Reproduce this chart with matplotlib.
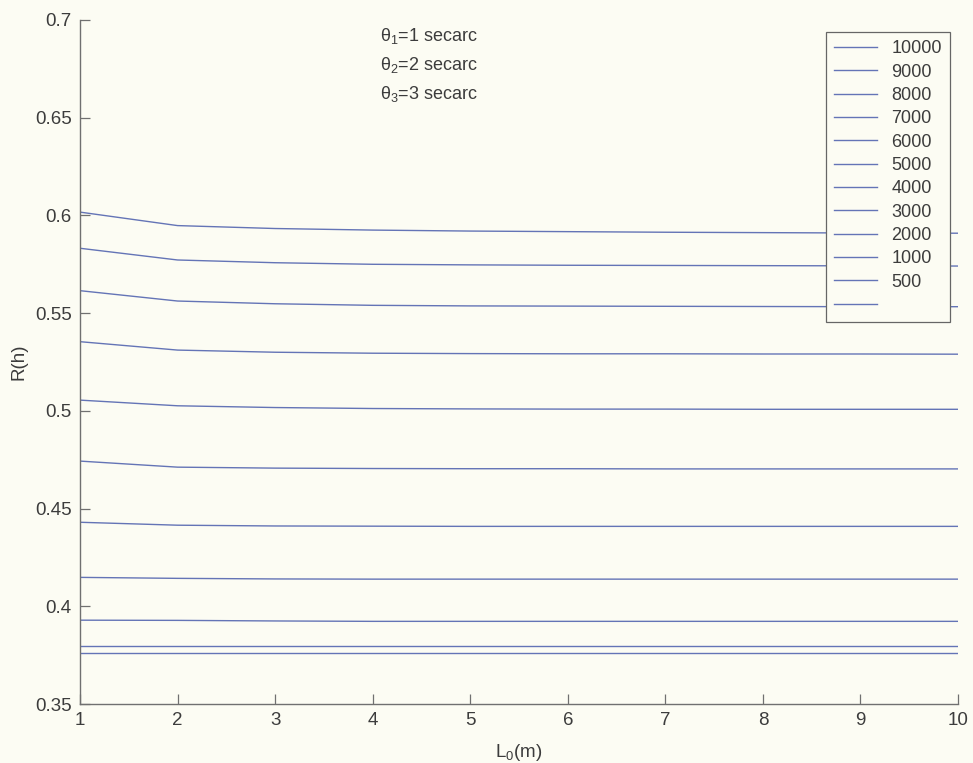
import matplotlib
matplotlib.use("Agg")
import matplotlib.pyplot as plt
from matplotlib.lines import Line2D
from matplotlib.ticker import FuncFormatter

plt.rcParams['font.family'] = ['Liberation Sans', 'DejaVu Sans']
plt.rcParams['mathtext.default'] = 'regular'

L0 = [1, 2, 3, 4, 5, 6, 7, 8, 9, 10]
labels = ['10000', '9000', '8000', '7000', '6000', '5000', '4000', '3000', '2000', '1000', '500']

r_10000 = [0.6017, 0.5948, 0.5933, 0.5925, 0.5920, 0.5917, 0.5914, 0.5912, 0.5910, 0.5909]
r_9000 = [0.5832, 0.5772, 0.5758, 0.5750, 0.5747, 0.5745, 0.5744, 0.5743, 0.5742, 0.5741]
r_8000 = [0.5615, 0.5562, 0.5548, 0.5540, 0.5537, 0.5536, 0.5535, 0.5534, 0.5533, 0.5533]
r_7000 = [0.5354, 0.5311, 0.5300, 0.5295, 0.5293, 0.5292, 0.5292, 0.5291, 0.5291, 0.5290]
r_6000 = [0.5055, 0.5026, 0.5017, 0.5012, 0.5010, 0.5009, 0.5009, 0.5008, 0.5008, 0.5008]
r_5000 = [0.4743, 0.4712, 0.4707, 0.4705, 0.4704, 0.4704, 0.4703, 0.4703, 0.4703, 0.4703]
r_4000 = [0.4430, 0.4415, 0.4411, 0.4410, 0.4409, 0.4409, 0.4409, 0.4409, 0.4409, 0.4409]
r_3000 = [0.4148, 0.4143, 0.4140, 0.4139, 0.4139, 0.4139, 0.4139, 0.4139, 0.4139, 0.4139]
r_2000 = [0.3929, 0.3928, 0.3925, 0.3923, 0.3923, 0.3923, 0.3923, 0.3923, 0.3923, 0.3923]
r_1000 = [0.3798, 0.3798, 0.3798, 0.3798, 0.3798, 0.3798, 0.3798, 0.3798, 0.3798, 0.3798]
r_500 = [0.3760, 0.3760, 0.3760, 0.3760, 0.3760, 0.3760, 0.3760, 0.3760, 0.3760, 0.3760]

series = [r_10000, r_9000, r_8000, r_7000, r_6000, r_5000, r_4000, r_3000, r_2000, r_1000, r_500]

line_color = '#6474b6'
bg = '#fcfcf3'
text_color = '#3c3c3c'
spine_color = '#707070'

fig = plt.figure(figsize=(9.73, 7.63), dpi=100, facecolor=bg)
ax = fig.add_axes([0.0822, 0.0773, 0.9024, 0.8965])
ax.set_facecolor(bg)

handles = []
for vals, lab in zip(series, labels):
    h, = ax.plot(L0, vals, color=line_color, lw=1.0, label=lab)
    handles.append(h)
handles.append(Line2D([], [], color=line_color, lw=1.0))
leg_labels = labels + ['']

ax.set_xlim(1, 10)
ax.set_ylim(0.35, 0.7)
ax.set_xticks(range(1, 11))
ax.set_yticks([0.35, 0.4, 0.45, 0.5, 0.55, 0.6, 0.65, 0.7])
ax.yaxis.set_major_formatter(FuncFormatter(lambda v, p: '%g' % v))

for s in ['top', 'right']:
    ax.spines[s].set_visible(False)
for s in ['left', 'bottom']:
    ax.spines[s].set_color(spine_color)
    ax.spines[s].set_linewidth(1.0)

ax.tick_params(direction='in', length=7, width=0.9, color=spine_color,
               labelsize=13.5, labelcolor=text_color, pad=6)

ax.set_xlabel('L$_0$(m)', fontsize=13.5, color=text_color, labelpad=9)
ax.set_ylabel('R(h)', fontsize=13.5, color=text_color, labelpad=5)

txt = ['$\\theta_1$=1 secarc', '$\\theta_2$=2 secarc', '$\\theta_3$=3 secarc']
for i, t in enumerate(txt):
    ax.text(0.342, 0.991 - i * 0.042, t, transform=ax.transAxes,
            fontsize=13, color=text_color, va='top', ha='left')

leg = ax.legend(handles, leg_labels, loc='upper right', bbox_to_anchor=(0.991, 0.982),
                fontsize=13, frameon=True, fancybox=False, framealpha=1,
                edgecolor='#666666', handlelength=2.4, handletextpad=0.8,
                labelspacing=0.35, borderpad=0.45, borderaxespad=0)
leg.get_frame().set_facecolor(bg)
leg.get_frame().set_linewidth(0.9)
for t in leg.get_texts():
    t.set_color(text_color)

fig.savefig('out.png', dpi=100, facecolor=bg)
